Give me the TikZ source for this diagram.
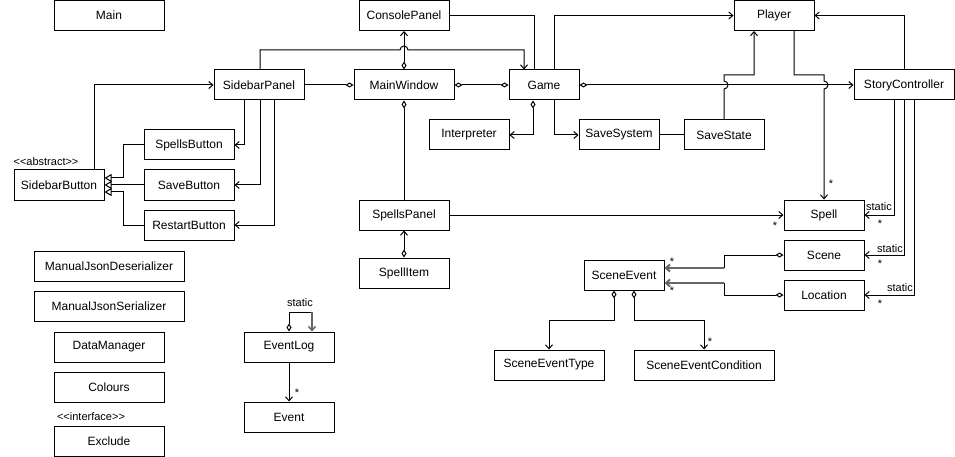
\documentclass[tikz,border=0pt]{standalone}
\usepackage{fontspec}
\setmainfont{Liberation Sans}
\usetikzlibrary{arrows.meta}

\begin{document}
\begin{tikzpicture}[x=1pt,y=-1pt]
\tikzstyle{cls}=[rectangle, draw=black, line width=1pt, minimum height=30pt, inner sep=0pt, font=\fontsize{12}{14}\selectfont]
\tikzstyle{line}=[line width=1pt]
\tikzstyle{connect}=[line, -{Straight Barb[length=4pt,width=7pt]}]
\tikzstyle{agg}=[line, {Diamond[open,length=8pt,width=5pt]}-{Straight Barb[length=4pt,width=7pt]}]
\tikzstyle{dia}=[line, {Diamond[open,length=8pt,width=5pt]}-]
\tikzstyle{inherit}=[line, -{Triangle[open,length=7pt,width=8pt]}]
\tikzstyle{lbl}=[inner sep=0pt, font=\fontsize{11}{13}\selectfont]
\useasboundingbox (0,0) rectangle (955,457);
  % classes
  \node[cls, minimum width=110pt] (main) at (109,15.5) {Main};
  \node[cls, minimum width=90pt] (consolepanel) at (404,15.5) {ConsolePanel};
  \node[cls, minimum width=80pt] (player) at (774,15.5) {Player};
  \node[cls, minimum width=90pt] (sidebarpanel) at (259,85) {SidebarPanel};
  \node[cls, minimum width=100pt] (mainwindow) at (404,85) {MainWindow};
  \node[cls, minimum width=70pt] (game) at (544,85) {Game};
  \node[cls, minimum width=100pt] (storycontroller) at (904,85) {StoryController};
  \node[cls, minimum width=80pt] (interpreter) at (469,135) {Interpreter};
  \node[cls, minimum width=80pt] (savesystem) at (619,135) {SaveSystem};
  \node[cls, minimum width=80pt] (savestate) at (724,135) {SaveState};
  \node[cls, minimum width=90pt] (spellsbutton) at (189,145) {SpellsButton};
  \node[cls, minimum width=90pt] (savebutton) at (189,185) {SaveButton};
  \node[cls, minimum width=90pt] (restartbutton) at (189,225) {RestartButton};
  \node[cls, minimum width=90pt] (sidebarbutton) at (59,185) {SidebarButton};
  \node[cls, minimum width=90pt] (spellspanel) at (404,215) {SpellsPanel};
  \node[cls, minimum width=90pt] (spellitem) at (404,273) {SpellItem};
  \node[cls, minimum width=80pt] (spell) at (824,215) {Spell};
  \node[cls, minimum width=80pt] (scene) at (824,255) {Scene};
  \node[cls, minimum width=80pt] (location) at (824,295) {Location};
  \node[cls, minimum width=80pt] (sceneevent) at (624,275) {SceneEvent};
  \node[cls, minimum width=110pt] (sceneeventtype) at (549,365) {SceneEventType};
  \node[cls, minimum width=140pt] (sceneeventcondition) at (704,365) {SceneEventCondition};
  \node[cls, minimum width=150pt] (deserializer) at (109,266) {ManualJsonDeserializer};
  \node[cls, minimum width=150pt] (serializer) at (109,306) {ManualJsonSerializer};
  \node[cls, minimum width=110pt] (datamanager) at (109,347) {DataManager};
  \node[cls, minimum width=110pt] (colours) at (109,387) {Colours};
  \node[cls, minimum width=110pt] (exclude) at (109,441) {Exclude};
  \node[cls, minimum width=90pt] (eventlog) at (289,347) {EventLog};
  \node[cls, minimum width=90pt] (event) at (289,417) {Event};
  % stereotypes
  \node[lbl] (abstract) at (46,162) {<{}<abstract>{}>};
  \node[lbl] (interface) at (91,417) {<{}<interface>{}>};
  % connectors
  \draw[connect] ([xshift=1pt]sidebarpanel.north) |- (400,50) arc[start angle=180,end angle=0,radius=4pt] -| ([xshift=-20pt]game.north);
  \draw[line] (consolepanel.east) -| ([xshift=-10pt]game.north);
  \draw[agg] (mainwindow.north) -- (consolepanel.south);
  \draw[dia] (mainwindow.west) -- (sidebarpanel.east);
  \draw[dia, {Diamond[open,length=8pt,width=5pt]}-{Diamond[open,length=8pt,width=5pt]}] (mainwindow.east) -- (game.west);
  \draw[connect] ([xshift=10pt]game.north) |- (player.west);
  \draw[agg] (game.east) -- (storycontroller.west);
  \draw[agg] ([xshift=-11pt]game.south) |- (interpreter.east);
  \draw[connect] ([xshift=10pt]game.south) |- (savesystem.west);
  \draw[line] (savesystem.east) -- (savestate.west);
  \draw[connect] (savestate.north) -- (724,89) arc[start angle=-90,end angle=90,radius=4pt] -- (724,75) -| ([xshift=-20pt]player.south);
  \draw[connect] ([xshift=20pt]player.south) |- (824,75) -- (824,81) arc[start angle=90,end angle=-90,radius=4pt] -- (spell.north);
  \draw[connect] (storycontroller.north) |- (player.east);
  \draw[connect] ([xshift=-10pt]storycontroller.south) |- (spell.east);
  \draw[connect] (storycontroller.south) |- (scene.east);
  \draw[connect] ([xshift=10pt]storycontroller.south) |- (location.east);
  \draw[connect] (spellspanel.east) -- (spell.west);
  \draw[agg] (spellitem.north) -- (spellspanel.south);
  \draw[dia] (mainwindow.south) -- (spellspanel.north);
  \draw[connect] ([xshift=-15pt]sidebarpanel.south) |- (spellsbutton.east);
  \draw[connect] ([xshift=1pt]sidebarpanel.south) |- (savebutton.east);
  \draw[connect] ([xshift=15pt]sidebarpanel.south) |- (restartbutton.east);
  \draw[connect] ([xshift=35pt]sidebarbutton.north) |- (sidebarpanel.west);
  \draw[inherit] (spellsbutton.west) -- ++(-20,0) |- ([yshift=7pt]sidebarbutton.east);
  \draw[inherit] (savebutton.west) -- (sidebarbutton.east);
  \draw[inherit] (restartbutton.west) -- ++(-20,0) |- ([yshift=-7pt]sidebarbutton.east);
  \coordinate (scenebend) at (724,268);
  \coordinate (locationbend) at (724,283);
  \draw[dia] (scene.west) -| (scenebend);
  \draw[dia] (location.west) -| (locationbend);
  \draw[connect, line width=2pt, black!60] (scenebend) -- ([yshift=7pt]sceneevent.east);
  \draw[connect, line width=2pt, black!60] (locationbend) -- ([yshift=-8pt]sceneevent.east);
  \draw[agg] ([xshift=-10pt]sceneevent.south) -- ++(0,30) -| (sceneeventtype.north);
  \draw[agg] ([xshift=10pt]sceneevent.south) -- ++(0,30) -| (sceneeventcondition.north);
  \coordinate (loopcorner) at (312,312);
  \draw[dia] (eventlog.north) |- (loopcorner);
  \draw[connect, line width=1.5pt, black!60] (loopcorner) -- ([xshift=23pt]eventlog.north);
  \draw[connect] (eventlog.south) -- (event.north);
  % multiplicities
  \node[lbl] (static1) at (879,207) {static};
  \node[lbl] (static2) at (890,249) {static};
  \node[lbl] (static3) at (900,288) {static};
  \node[lbl] (static4) at (300,303) {static};
  \node[lbl] (many1) at (880,224) {*};
  \node[lbl] (many2) at (880,264) {*};
  \node[lbl] (many3) at (880,304) {*};
  \node[lbl] (many4) at (831,184) {*};
  \node[lbl] (many5) at (775,226) {*};
  \node[lbl] (many6) at (672,262) {*};
  \node[lbl] (many7) at (672,291) {*};
  \node[lbl] (many8) at (710,342) {*};
  \node[lbl] (many9) at (297,393) {*};
\end{tikzpicture}
\end{document}
